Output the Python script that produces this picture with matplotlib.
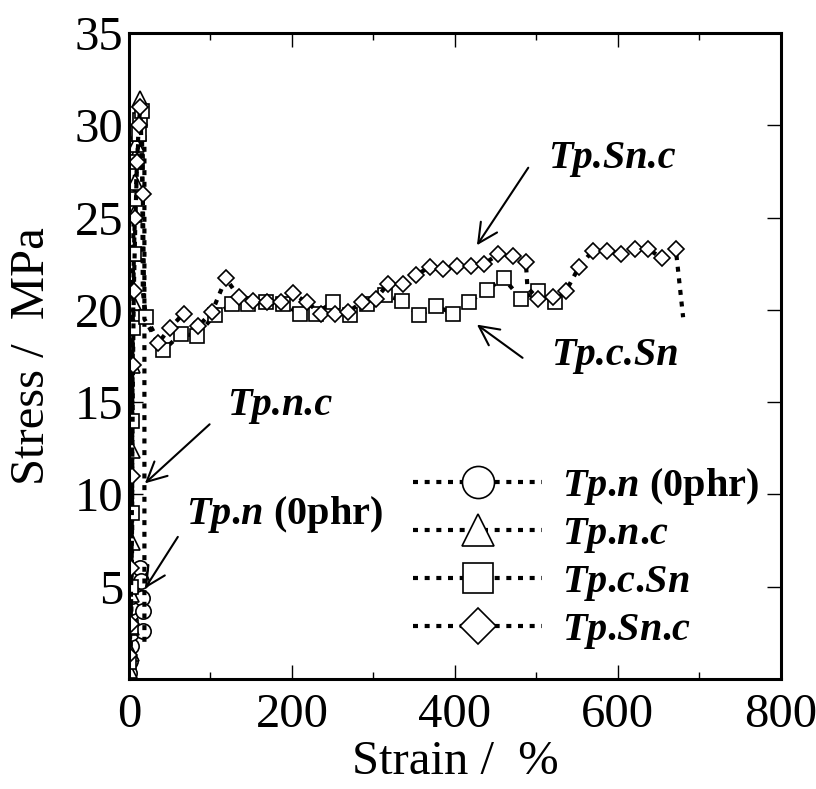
import numpy as np
import matplotlib
matplotlib.use('Agg')
import matplotlib.pyplot as plt

plt.rcParams['font.family'] = 'Liberation Serif'
plt.rcParams['mathtext.fontset'] = 'custom'
plt.rcParams['mathtext.rm'] = 'Liberation Serif'
plt.rcParams['mathtext.bf'] = 'Liberation Serif:bold'
plt.rcParams['mathtext.bfit'] = 'Liberation Serif:italic:bold'

# Tp.n (0phr) - circles
strain_n = [0, 1, 2, 3, 3, 3, 4, 6, 9, 11, 13, 15, 16, 17, 17]
stress_n = [0.3, 1.0, 1.8, 2.5, 3.6, 3.9, 4.5, 5.2, 5.5, 5.7, 6.0, 5.3, 4.4, 3.7, 2.6]
skip_n = []

# Tp.n.c - triangles (last two points = break line)
strain_nc = [0, 2, 3, 3, 4, 4, 4, 5, 5, 6, 7, 8, 9, 11, 14, 19, 19]
stress_nc = [0.5, 1.4, 2.8, 4.6, 7.4, 12.4, 17.0, 20.4, 23.1, 25.2, 26.9, 28.3,
             29.0, 29.6, 31.4, 29.5, 1.7]
skip_nc = [15, 16]

# Tp.c.Sn - squares
strain_csn = [0, 2, 3, 4, 4, 5, 6, 8, 10, 12, 14, 16, 17, 21,
              42, 64, 83, 105, 126, 146, 168, 189, 210, 229, 250, 271, 292,
              314, 335, 356, 377, 398, 417, 439, 460, 481, 502, 523]
stress_csn = [0.9, 2.8, 5.0, 9.0, 14.0, 19.0, 23.0, 26.0, 28.0, 29.5, 30.3, 30.8, 21.0, 19.6,
              17.8, 18.7, 18.6, 19.7, 20.3, 20.3, 20.4, 20.3, 19.8, 19.8, 20.4, 19.7, 20.3,
              20.8, 20.5, 19.7, 20.2, 19.8, 20.4, 21.1, 21.7, 20.6, 21.0, 20.4]
skip_csn = [12]

# Tp.Sn.c - diamonds
strain_snc = [0, 2, 3, 4, 5, 6, 8, 10, 12, 14, 17, 19,
              36, 50, 67, 85, 102, 119, 135, 152, 169, 186, 201, 218, 236, 253,
              269, 286, 303, 318, 336, 352, 369, 385, 402, 420, 436, 453, 471, 487,
              489, 502, 520, 536, 552, 569, 587, 604, 621, 637, 654, 671, 680]
stress_snc = [1.3, 3.0, 6.0, 11.0, 17.0, 21.0, 25.0, 28.0, 30.0, 31.0, 26.3, 19.5,
              18.2, 19.0, 19.8, 19.1, 19.9, 21.7, 20.7, 20.5, 20.4, 20.4, 20.9, 20.4, 19.8, 19.8,
              19.9, 20.4, 20.6, 21.4, 21.4, 21.9, 22.3, 22.2, 22.4, 22.4, 22.5, 23.0, 22.9, 22.6,
              21.2, 20.6, 20.7, 21.0, 22.3, 23.2, 23.2, 23.0, 23.3, 23.3, 22.8, 23.3, 19.6]
skip_snc = [11, 40, 52]

lab_n = r'$\mathbfit{Tp}$.$\mathbfit{n}$ (0phr)'
lab_nc = r'$\mathbfit{Tp}$.$\mathbfit{n}$.$\mathbfit{c}$'
lab_csn = r'$\mathbfit{Tp}$.$\mathbfit{c}$.$\mathbfit{Sn}$'
lab_snc = r'$\mathbfit{Tp}$.$\mathbfit{Sn}$.$\mathbfit{c}$'

series = [
    (strain_n, stress_n, skip_n, 'o', 11, lab_n),
    (strain_nc, stress_nc, skip_nc, '^', 11, lab_nc),
    (strain_csn, stress_csn, skip_csn, 's', 10.5, lab_csn),
    (strain_snc, stress_snc, skip_snc, 'D', 8.5, lab_snc),
]

fig = plt.figure(figsize=(8.16, 7.89), dpi=100)
ax = fig.add_axes([0.158, 0.1394, 0.799, 0.8188])

for x, y, skip, m, ms, lab in series:
    mask = [i not in skip for i in range(len(x))]
    ax.plot(x, y, color='black', linestyle=(0, (1.2, 1.6)), lw=3,
            marker=m, ms=ms, mfc='white', mec='black', mew=1.2,
            markevery=mask, label=lab)

ax.set_xlim(0, 800)
ax.set_ylim(0, 35)
ax.set_xticks([0, 200, 400, 600, 800])
ax.set_xticks([100, 300, 500, 700], minor=True)
ax.set_yticks([5, 10, 15, 20, 25, 30, 35])
ax.tick_params(which='both', direction='in', top=True, right=True, width=1)
ax.tick_params(which='major', length=10, labelsize=35)
ax.tick_params(which='minor', length=5)
ax.tick_params(axis='x', pad=10)
ax.tick_params(axis='y', pad=4)
for s in ax.spines.values():
    s.set_linewidth(2.2)

ax.set_xlabel('Strain /  %', fontsize=35)
ax.set_ylabel('Stress /  MPa', fontsize=35)
ax.xaxis.set_label_coords(0.5, -0.095)
ax.yaxis.set_label_coords(-0.115, 0.5)

# annotations
arrow = dict(arrowstyle='->,head_length=0.7,head_width=0.35', color='black',
             lw=1.5, mutation_scale=20, shrinkA=0, shrinkB=0)
tfont = dict(fontsize=29, fontweight='bold', ha='center', va='center')
ax.text(593, 28.2, 'Tp.Sn.c', style='italic', **tfont)
ax.annotate('', xy=(427, 23.5), xytext=(490, 27.7), arrowprops=arrow)
ax.text(596, 17.5, 'Tp.c.Sn', style='italic', **tfont)
ax.annotate('', xy=(427, 19.2), xytext=(483, 17.4), arrowprops=arrow)
ax.text(185, 14.8, 'Tp.n.c', style='italic', **tfont)
ax.annotate('', xy=(19.6, 10.6), xytext=(99, 13.8), arrowprops=arrow)
ax.text(191, 8.9, lab_n, **tfont)
ax.annotate('', xy=(19.6, 4.9), xytext=(60, 7.7), arrowprops=arrow)

ax.legend(loc='upper left', bbox_to_anchor=(0.436, 0.33), frameon=False,
          prop={'size': 29, 'weight': 'bold'}, markerscale=2.1, numpoints=1,
          handlelength=3.2, handletextpad=0.5, labelspacing=0.22,
          borderpad=0, borderaxespad=0)

fig.savefig('out.png', dpi=100)
